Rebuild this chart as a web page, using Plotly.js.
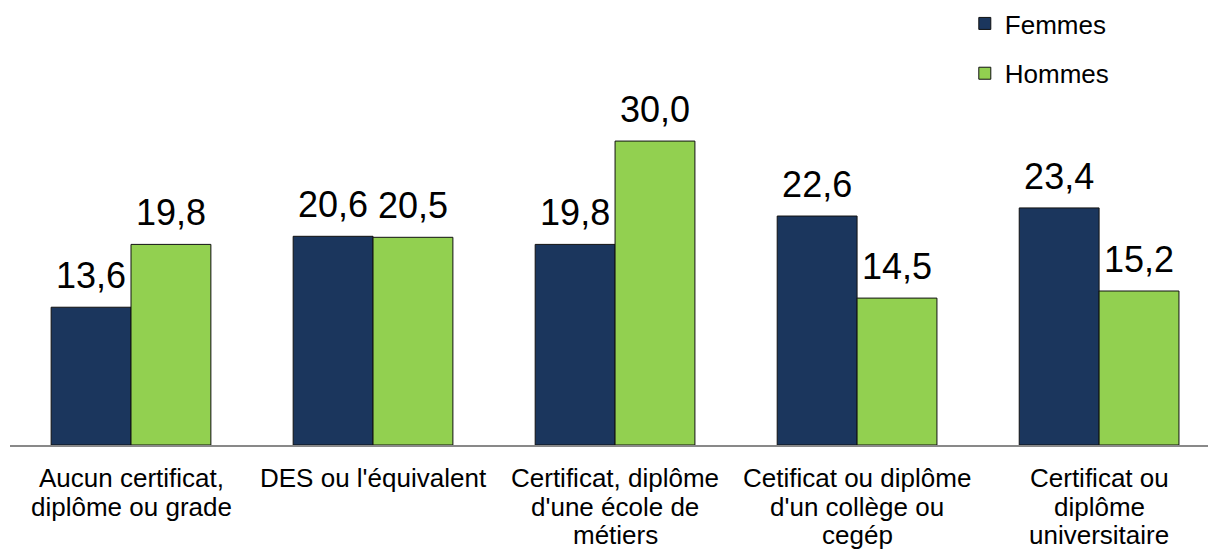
<!DOCTYPE html>
<html>
<head>
<meta charset="utf-8">
<script src="https://cdn.plot.ly/plotly-3.0.1.min.js"></script>
<style>html,body{margin:0;padding:0;background:#fff;overflow:hidden}#chart{width:1208px;height:551px}</style>
</head>
<body>
<div id="chart"></div>
<script>
const categories = [
  "Aucun certificat,<br>diplôme ou grade",
  "DES ou l'équivalent",
  "Certificat, diplôme<br>d'une école de<br>métiers",
  "Cetificat ou diplôme<br>d'un collège ou<br>cegép",
  "Certificat ou<br>diplôme<br>universitaire"
];
const femmes = [13.6, 20.6, 19.8, 22.6, 23.4];
const hommes = [19.8, 20.5, 30.0, 14.5, 15.2];
const seriesNames = ["Femmes", "Hommes"];

const FONT = "Liberation Sans, Arial, sans-serif";
const CAT_FONT_SIZE = 26;
const CAT_LINE_GAP = 28.5;
const CAT_TOP_GAP = 16;

// value label: big number, followed by a small blank line that lifts it above the bar
const labelTemplate = "<span style='font-size:36px'>%{y:.1f}</span><br>\u00a0";
const common = {
  type: "bar",
  x: categories,
  texttemplate: labelTemplate,
  textposition: "outside",
  textfont: {family: FONT, size: 11, color: "#000"},
  constraintext: "none",
  cliponaxis: false,
  hoverinfo: "skip"
};
const data = [
  Object.assign({}, common, {name: seriesNames[0], y: femmes, legendgroup: "f",
    marker: {color: "#1B365D", line: {color: "#111", width: 1}}}),
  Object.assign({}, common, {name: seriesNames[1], y: hommes, legendgroup: "h",
    marker: {color: "#92D050", line: {color: "#111", width: 1}}})
];

// category labels, one text per line so the line spacing matches the original
const annotations = [];
categories.forEach(function (cat) {
  cat.split("<br>").forEach(function (line, i) {
    annotations.push({
      xref: "x", x: cat, yref: "paper", y: 0,
      xanchor: "center", yanchor: "top",
      yshift: -(CAT_TOP_GAP + i * CAT_LINE_GAP),
      text: line, showarrow: false,
      font: {family: FONT, size: CAT_FONT_SIZE, color: "#000"}
    });
  });
});

const layout = {
  width: 1208, height: 551,
  margin: {l: 10, r: 0, t: 20, b: 106},
  paper_bgcolor: "#fff", plot_bgcolor: "#fff",
  separators: ", ",
  barmode: "group",
  bargap: 0.34,
  bargroupgap: 0,
  showlegend: true,
  legend: {
    x: 0.797, xanchor: "left", y: 1.047, yanchor: "top",
    traceorder: "grouped", tracegroupgap: 13,
    font: {family: FONT, size: 26, color: "#000"},
    bgcolor: "rgba(0,0,0,0)"
  },
  annotations: annotations,
  xaxis: {
    range: [-0.5, 4.45],
    showline: true, linecolor: "#898989", linewidth: 2,
    ticks: "", showgrid: false, zeroline: false,
    showticklabels: false,
    fixedrange: true
  },
  yaxis: {
    range: [0, 41.95],
    visible: false, showgrid: false, zeroline: false, fixedrange: true
  }
};
Plotly.newPlot("chart", data, layout, {displayModeBar: false, staticPlot: true});
</script>
</body>
</html>
